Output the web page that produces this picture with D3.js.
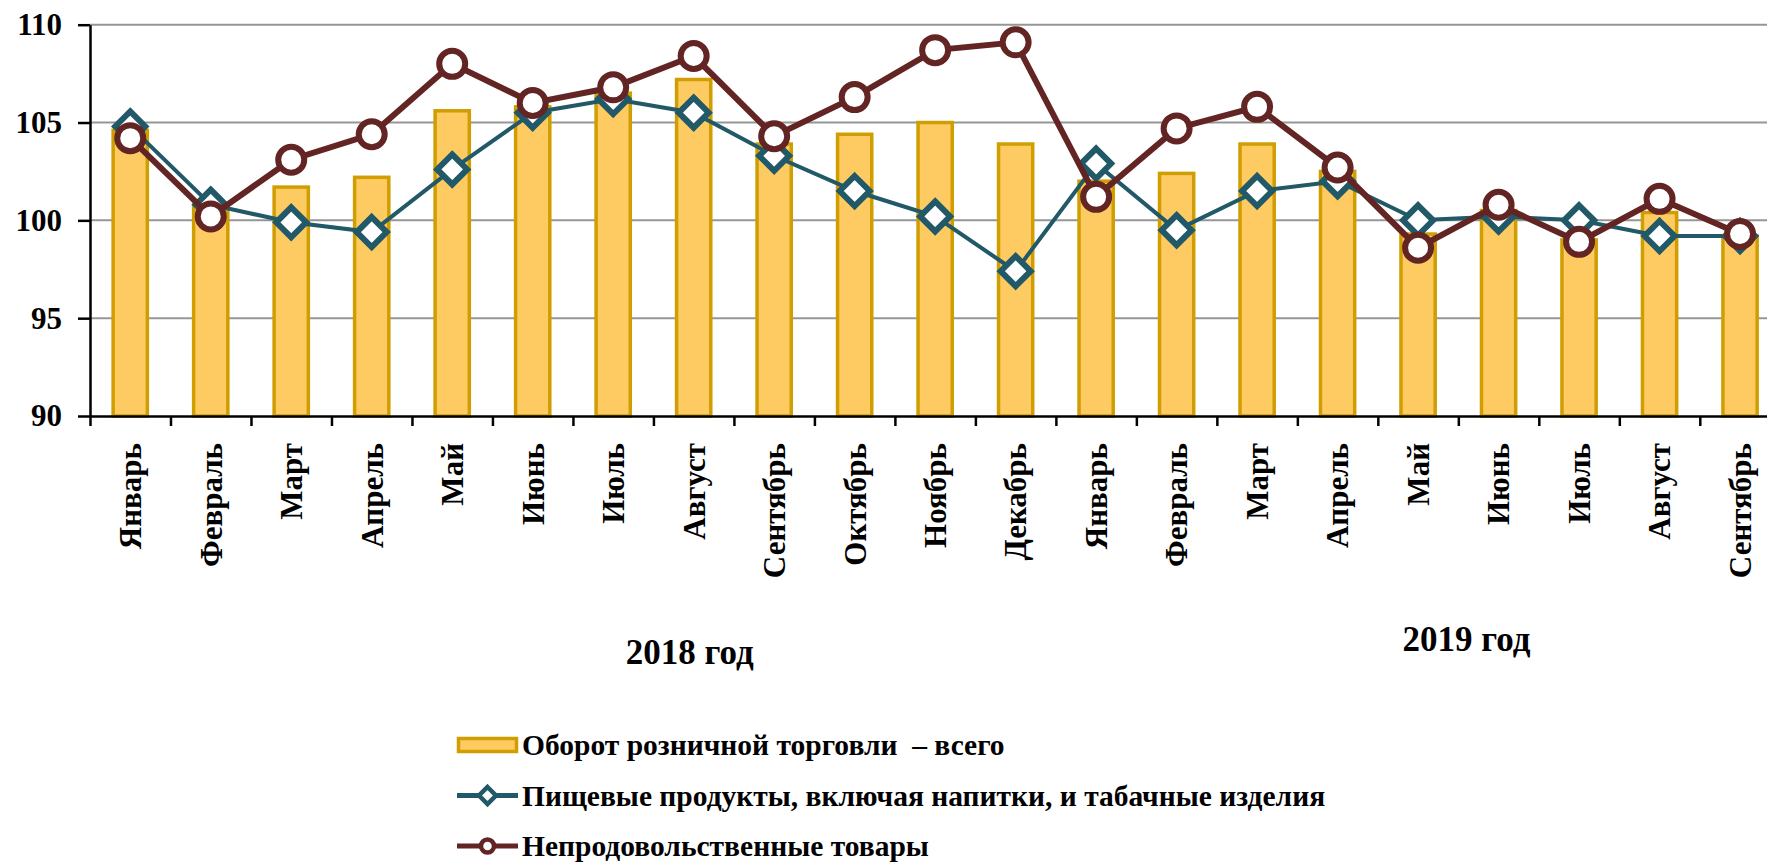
<!DOCTYPE html>
<html lang="ru">
<head>
  <meta charset="UTF-8" />
  <title>Оборот розничной торговли</title>
  <style>
    body {
      margin: 0;
      background: #fff;
    }
    svg {
      display: block;
      font-family: "Liberation Serif", "Times New Roman", serif;
      font-weight: bold;
    }
    .grid line {
      stroke: #969696;
      stroke-width: 2px;
    }
    .axis path, .axis line {
      stroke: #000;
      stroke-width: 2.5px;
    }
  </style>
</head>
<body>
  <svg width="1767" height="865"></svg>

  <script src="https://cdnjs.cloudflare.com/ajax/libs/d3/7.8.5/d3.min.js"></script>
  <script>
    // months on the x axis: Jan 2018 .. Sep 2019
    const months = [
      "Январь", "Февраль", "Март", "Апрель", "Май", "Июнь", "Июль", "Август",
      "Сентябрь", "Октябрь", "Ноябрь", "Декабрь",
      "Январь", "Февраль", "Март", "Апрель", "Май", "Июнь", "Июль", "Август", "Сентябрь"
    ];

    // retail turnover total (bars)
    const total = [
      104.6, 100.8, 101.7, 102.2, 105.6, 105.8, 106.5, 107.2, 103.9, 104.4, 105.0, 103.9,
      102.0, 102.4, 103.9, 102.5, 99.3, 100.5, 99.0, 100.4, 99.2
    ];

    // food products incl. drinks and tobacco
    const food = [
      104.8, 100.8, 99.9, 99.4, 102.6, 105.5, 106.2, 105.5, 103.3, 101.5, 100.2, 97.4,
      102.9, 99.5, 101.5, 102.0, 100.0, 100.2, 100.0, 99.2, 99.2
    ];

    // non-food goods
    const nonfood = [
      104.2, 100.2, 103.1, 104.4, 108.0, 106.0, 106.8, 108.4, 104.3, 106.3, 108.7, 109.1,
      101.2, 104.7, 105.8, 102.7, 98.6, 100.8, 98.9, 101.1, 99.3
    ];

    const yTicks = [90, 95, 100, 105, 110];
    const years = [
      { label: "2018 год", at: 7.45, y: 664 },
      { label: "2019 год", at: 17.1, y: 651 }
    ];
    const legendItems = [
      "Оборот розничной торговли  – всего",
      "Пищевые продукты, включая напитки, и табачные изделия",
      "Непродовольственные товары"
    ];

    const foodColor = "#215968";
    const nonfoodColor = "#632523";
    const barFill = "#FECB63";
    const barStroke = "#D09E00";

    const left = 90, step = 80.49;
    const right = left + step * months.length;

    const svg = d3.select("svg");

    const x = d3.scaleBand()
      .domain(d3.range(months.length))
      .range([left, right])
      .paddingInner(0.575)
      .paddingOuter(0.2875);

    const xIdx = d3.scaleLinear().domain([0, months.length]).range([left, right]);

    const y = d3.scaleLinear().domain([90, 110]).range([416, 24.7]);

    const cx = i => x(i) + x.bandwidth() / 2;

    // gridlines
    svg.append("g")
      .attr("class", "grid")
      .selectAll("line")
      .data(yTicks.slice(1))
      .join("line")
      .attr("x1", left)
      .attr("x2", right)
      .attr("y1", d => y(d))
      .attr("y2", d => y(d));

    // bars
    svg.append("g")
      .selectAll("rect")
      .data(total)
      .join("rect")
      .attr("x", (d, i) => x(i))
      .attr("width", x.bandwidth())
      .attr("y", d => y(d))
      .attr("height", d => y(90) - y(d))
      .attr("fill", barFill)
      .attr("stroke", barStroke)
      .attr("stroke-width", 3.5);

    // y axis
    const yAxis = svg.append("g")
      .attr("class", "axis")
      .attr("transform", `translate(${left},0)`)
      .call(d3.axisLeft(y).tickValues(yTicks).tickSize(12).tickPadding(16).tickSizeOuter(0));
    yAxis.selectAll("text")
      .attr("font-size", 31)
      .attr("font-family", "Liberation Serif, serif")
      .attr("font-weight", "bold")
      .attr("fill", "#000");

    // x axis: ticks at month boundaries, labels drawn separately
    svg.append("g")
      .attr("class", "axis")
      .attr("transform", `translate(0,${y(90)})`)
      .call(d3.axisBottom(xIdx).tickValues(d3.range(months.length + 1)).tickFormat("").tickSize(10).tickSizeOuter(0));

    svg.append("g")
      .selectAll("text")
      .data(months)
      .join("text")
      .attr("transform", (d, i) => `translate(${cx(i)},443) rotate(-90)`)
      .attr("text-anchor", "end")
      .attr("dy", "0.35em")
      .attr("font-size", 31)
      .text(d => d);

    svg.append("g")
      .selectAll("text")
      .data(years)
      .join("text")
      .attr("x", d => xIdx(d.at))
      .attr("y", d => d.y)
      .attr("text-anchor", "middle")
      .attr("font-size", 35)
      .text(d => d.label);

    // lines
    const line = d3.line().x((d, i) => cx(i)).y(d => y(d));

    function diamond(sel, r) {
      sel.attr("d", `M0,${-r}L${r},0L0,${r}L${-r},0Z`);
    }

    svg.append("path")
      .datum(food)
      .attr("fill", "none")
      .attr("stroke", foodColor)
      .attr("stroke-width", 4)
      .attr("d", line);

    svg.append("g")
      .selectAll("path")
      .data(food)
      .join("path")
      .attr("transform", (d, i) => `translate(${cx(i)},${y(d)})`)
      .call(diamond, 15)
      .attr("fill", "#fff")
      .attr("stroke", foodColor)
      .attr("stroke-width", 6);

    svg.append("path")
      .datum(nonfood)
      .attr("fill", "none")
      .attr("stroke", nonfoodColor)
      .attr("stroke-width", 6)
      .attr("d", line);

    svg.append("g")
      .selectAll("circle")
      .data(nonfood)
      .join("circle")
      .attr("cx", (d, i) => cx(i))
      .attr("cy", d => y(d))
      .attr("r", 13)
      .attr("fill", "#fff")
      .attr("stroke", nonfoodColor)
      .attr("stroke-width", 6);

    // legend
    const legend = svg.append("g").attr("transform", "translate(457,745)");
    const rowGap = 50.5;

    legend.append("rect")
      .attr("x", 1.5).attr("y", -6.5)
      .attr("width", 58).attr("height", 13)
      .attr("fill", barFill)
      .attr("stroke", barStroke)
      .attr("stroke-width", 3.5);

    [[foodColor, 1], [nonfoodColor, 2]].forEach(([c, k]) => {
      legend.append("line")
        .attr("x1", 0).attr("x2", 61)
        .attr("y1", rowGap * k).attr("y2", rowGap * k)
        .attr("stroke", c)
        .attr("stroke-width", 5);
    });
    legend.append("path")
      .attr("transform", `translate(30.5,${rowGap})`)
      .call(diamond, 8.5)
      .attr("fill", "#fff")
      .attr("stroke", foodColor)
      .attr("stroke-width", 4.5);
    legend.append("circle")
      .attr("cx", 30.5).attr("cy", rowGap * 2)
      .attr("r", 6.5)
      .attr("fill", "#fff")
      .attr("stroke", nonfoodColor)
      .attr("stroke-width", 4.5);

    legend.selectAll("text.item")
      .data(legendItems)
      .join("text")
      .attr("class", "item")
      .attr("x", 65)
      .attr("y", (d, i) => i * rowGap)
      .attr("dy", "0.35em")
      .attr("font-size", 29.5)
      .style("white-space", "pre")
      .text(d => d);
  </script>
</body>
</html>
